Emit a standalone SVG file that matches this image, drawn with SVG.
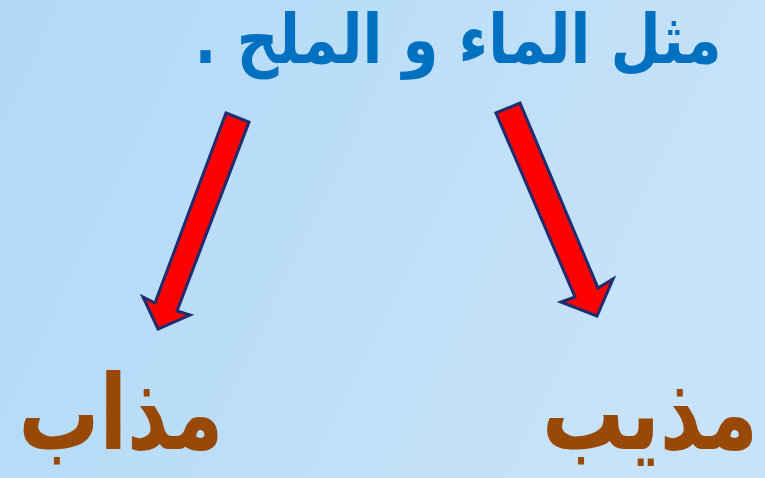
<svg xmlns="http://www.w3.org/2000/svg" width="765" height="478" viewBox="0 0 765 478">
  <defs>
    <linearGradient id="bg" x1="0" y1="0" x2="1" y2="0.3">
      <stop offset="0" stop-color="#b1d9f7"/>
      <stop offset="1" stop-color="#c6e3f9"/>
    </linearGradient>
    <style>
      .arrow { fill: #ff0000; stroke: #1f2d6e; stroke-width: 3; stroke-linejoin: miter; }
      .title { font-family: "DejaVu Sans", sans-serif; font-weight: bold; fill: #0070c0; direction: rtl; unicode-bidi: embed; }
      .label { font-family: "DejaVu Sans", sans-serif; font-weight: bold; fill: #984807; direction: rtl; unicode-bidi: embed; }
    </style>
  </defs>
  <rect x="0" y="0" width="765" height="478" fill="url(#bg)"/>

  <g id="title">
    <text class="title" x="458" y="63" font-size="68" text-anchor="middle" textLength="527" lengthAdjust="spacingAndGlyphs">مثل الماء و الملح .</text>
  </g>

  <g id="connectors">
    <polygon class="arrow" points="226,113 249,122 177,311 190,315 158,329 143,297 155,303"/>
    <polygon class="arrow" points="496,113 520,103 598,288 613,279 597,316 561,302 575,297"/>
  </g>

  <g id="solute">
    <text class="label" x="121" y="449" font-size="104" text-anchor="middle" textLength="205" lengthAdjust="spacingAndGlyphs">مذاب</text>
  </g>
  <g id="solvent">
    <text class="label" x="650" y="449" font-size="104" text-anchor="middle" textLength="216" lengthAdjust="spacingAndGlyphs">مذيب</text>
  </g>
</svg>
